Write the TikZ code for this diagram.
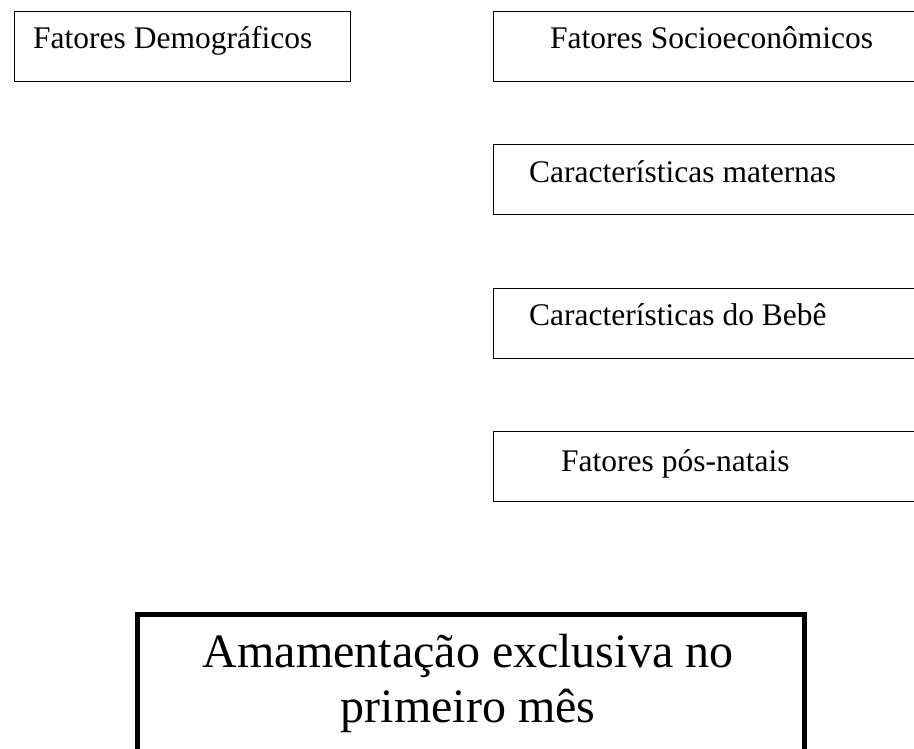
\documentclass[tikz,border=0pt]{standalone}
\usepackage{fontspec}
\setmainfont{Liberation Serif}
\newcommand{\smallfs}{\fontsize{31.5}{36}\selectfont}
\newcommand{\bigfs}{\fontsize{48}{55}\selectfont}
\begin{document}
\begin{tikzpicture}[x=1pt,y=-1pt,
  box/.style={draw, line width=1.6pt, anchor=north west, inner sep=0pt, minimum height=70pt},
  bigbox/.style={draw, line width=5pt, anchor=north west, inner sep=0pt, minimum width=667pt, minimum height=180pt},
  lbl/.style={anchor=base west, inner sep=0pt, font=\smallfs},
  biglbl/.style={anchor=base, inner sep=0pt, font=\bigfs}]
\useasboundingbox (0,0) rectangle (914,749);
\node[box, minimum width=336pt] (b1) at (13.8,10.8) {};
\node[box, minimum width=460pt] (b2) at (492.8,10.8) {};
\node[box, minimum width=460pt] (b3) at (492.8,143.8) {};
\node[box, minimum width=460pt] (b4) at (492.8,287.8) {};
\node[box, minimum width=460pt] (b5) at (492.8,430.8) {};
\node[bigbox] (b6) at (134.5,611.5) {};
\node[lbl] (t1) at (33,49) {Fatores Demográficos};
\node[lbl] (t2) at (550,49) {Fatores Socioeconômicos};
\node[lbl] (t3) at (529,183) {Características maternas};
\node[lbl] (t4) at (529,325) {Características do Bebê};
\node[lbl] (t5) at (561,471) {Fatores pós-natais};
\node[biglbl] (t6) at (468,667) {Amamentação exclusiva no};
\node[biglbl] (t7) at (468,722) {primeiro mês};
\end{tikzpicture}
\end{document}
